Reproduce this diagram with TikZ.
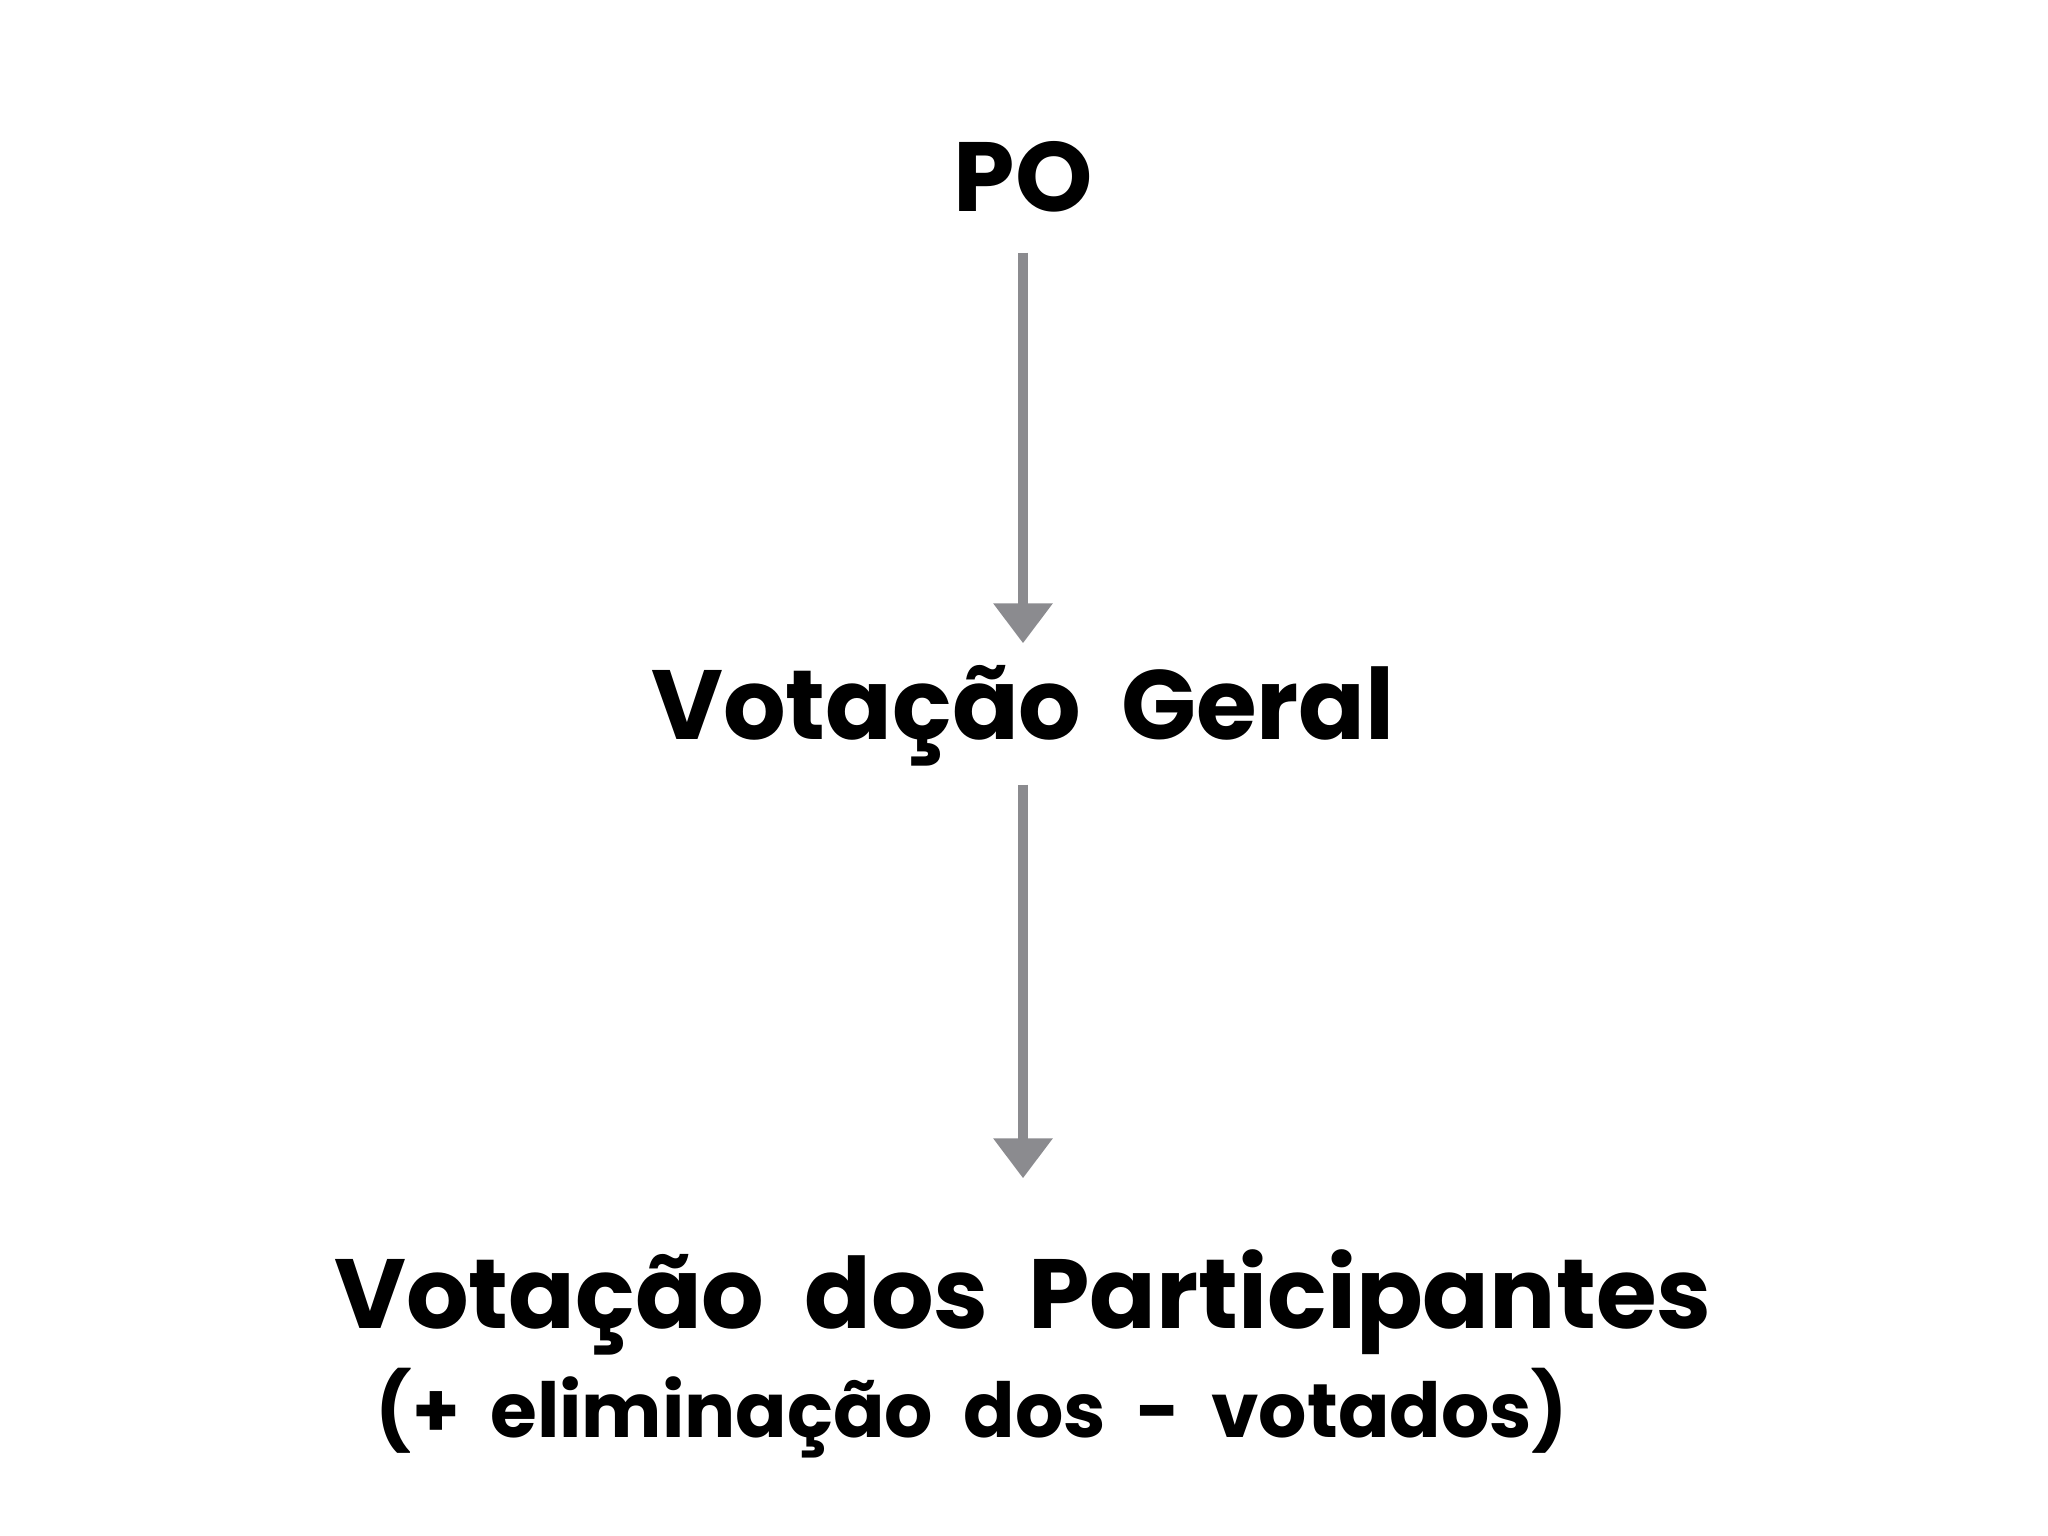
\documentclass[tikz,border=0pt]{standalone}
\usepackage{fontspec}
\setmainfont{Poppins}[WordSpace=1.9]
\usetikzlibrary{positioning,arrows.meta}
\tikzset{
  etapa/.style={inner sep=0pt, text height=0.8cm, text depth=0.25cm, font=\fontsize{28}{34}\selectfont\bfseries},
  nota/.style={inner sep=0pt, font=\fontsize{21.6}{27}\selectfont\bfseries},
  fluxo/.style={draw=seta, line width=0.1cm, -{Triangle[width=0.57cm,length=0.4cm]}}
}
\definecolor{seta}{HTML}{8B8B8F}
\begin{document}
\begin{tikzpicture}
\useasboundingbox (0,0) rectangle (20.48,-15.36);
\node[etapa, anchor=base] (po) at (10.23,-2.12) {PO};
\node[etapa, anchor=base] (geral) [below=5.28cm of po.base, anchor=base] {Votação Geral};
\node[etapa, anchor=base] (part) [below=5.88cm of geral.base, anchor=base] {Votação dos Participantes};
\node[nota, anchor=base] (elim) [below=1.09cm of part.base, xshift=-0.51cm, anchor=base] {(+ eliminação dos - votados)};
\draw[fluxo, shorten <=0.15cm, shorten >=0.16cm] (po) -- (geral);
\draw[fluxo, shorten <=0.19cm, shorten >=0.69cm] (geral) -- (part);
\end{tikzpicture}
\end{document}
